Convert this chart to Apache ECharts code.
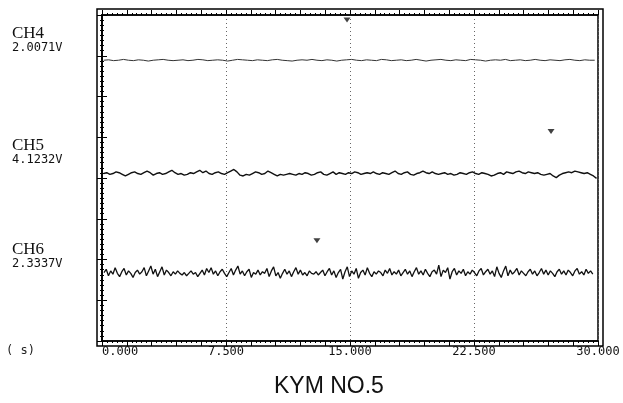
<!DOCTYPE html>
<html>
<head>
<meta charset="utf-8">
<script src="https://cdn.jsdelivr.net/npm/echarts@6/dist/echarts.min.js"></script>
<style>
  html, body { margin: 0; padding: 0; background: #fff; }
  #chart { width: 623px; height: 403px; }
</style>
</head>
<body>
<div id="chart"></div>
<script>
// Recorder sweep: 0 to 30 s, three channels, levels in screen divisions (0 = bottom, 8 = top)
const timeTicks = [0, 7.5, 15, 22.5, 30];
const channelNames = ['CH4', 'CH5', 'CH6'];
const channelReadings = ['2.0071V', '4.1232V', '2.3337V'];

// sampling clock of each trace (s)
const ch4Start = 0.1, ch4Step = 0.3;
const ch5Start = 0.1, ch5Step = 0.1875;
const ch6Start = 0.12, ch6Step = 0.135;

const ch4 = [
  6.89,6.90,6.88,6.89,6.91,6.89,6.88,6.90,6.89,6.87,
  6.89,6.90,6.91,6.89,6.88,6.89,6.90,6.88,6.89,6.91,
  6.90,6.88,6.89,6.90,6.89,6.87,6.89,6.91,6.90,6.89,
  6.88,6.90,6.89,6.88,6.90,6.91,6.89,6.88,6.87,6.89,
  6.90,6.89,6.91,6.89,6.88,6.90,6.89,6.87,6.89,6.90,
  6.91,6.89,6.88,6.90,6.89,6.88,6.91,6.90,6.88,6.89,
  6.90,6.88,6.89,6.91,6.89,6.87,6.89,6.90,6.91,6.89,
  6.88,6.90,6.89,6.88,6.91,6.90,6.89,6.87,6.89,6.90,
  6.89,6.91,6.88,6.89,6.90,6.88,6.89,6.91,6.89,6.88,
  6.90,6.89,6.88,6.90,6.91,6.89,6.88,6.90,6.89,6.89
];

const ch5 = [
  4.11,4.13,4.09,4.11,4.15,4.13,4.09,4.05,4.09,4.13,
  4.15,4.11,4.09,4.13,4.17,4.13,4.07,4.11,4.13,4.09,
  4.11,4.15,4.19,4.13,4.09,4.11,4.07,4.09,4.13,4.11,
  4.15,4.19,4.13,4.17,4.11,4.09,4.13,4.15,4.11,4.09,
  4.13,4.17,4.21,4.15,4.07,4.05,4.09,4.07,4.11,4.15,
  4.13,4.09,4.11,4.17,4.13,4.09,4.05,4.09,4.07,4.09,
  4.11,4.09,4.07,4.11,4.09,4.13,4.11,4.07,4.09,4.13,
  4.15,4.09,4.07,4.11,4.15,4.09,4.13,4.11,4.09,4.13,
  4.11,4.15,4.13,4.09,4.11,4.13,4.11,4.15,4.11,4.09,
  4.13,4.11,4.09,4.13,4.17,4.11,4.09,4.13,4.15,4.09,
  4.07,4.11,4.13,4.17,4.13,4.11,4.15,4.11,4.09,4.11,
  4.13,4.09,4.11,4.07,4.09,4.13,4.11,4.09,4.13,4.15,
  4.11,4.09,4.13,4.11,4.09,4.05,4.07,4.11,4.13,4.09,
  4.15,4.13,4.11,4.15,4.17,4.13,4.11,4.15,4.13,4.11,
  4.13,4.09,4.07,4.09,4.11,4.05,4.01,4.07,4.11,4.13,
  4.15,4.13,4.17,4.15,4.13,4.11,4.13,4.09,4.05,3.99
];

const ch6 = [
  1.68,1.76,1.60,1.72,1.64,1.80,1.66,1.58,1.70,1.78,
  1.62,1.72,1.66,1.56,1.68,1.74,1.64,1.70,1.80,1.60,
  1.72,1.84,1.64,1.76,1.58,1.70,1.82,1.62,1.74,1.68,
  1.60,1.70,1.64,1.72,1.66,1.62,1.68,1.60,1.66,1.72,
  1.64,1.68,1.58,1.66,1.74,1.62,1.78,1.68,1.80,1.64,
  1.72,1.60,1.70,1.76,1.66,1.58,1.68,1.78,1.62,1.74,
  1.84,1.64,1.72,1.60,1.70,1.76,1.56,1.68,1.64,1.74,
  1.62,1.70,1.66,1.78,1.58,1.72,1.82,1.60,1.68,1.54,
  1.66,1.76,1.64,1.72,1.58,1.70,1.80,1.64,1.74,1.62,
  1.68,1.60,1.72,1.66,1.64,1.70,1.62,1.68,1.74,1.60,
  1.70,1.78,1.62,1.72,1.56,1.68,1.76,1.52,1.70,1.82,
  1.58,1.72,1.64,1.78,1.54,1.68,1.74,1.62,1.80,1.66,
  1.58,1.70,1.64,1.72,1.68,1.60,1.74,1.66,1.78,1.62,
  1.70,1.64,1.74,1.60,1.68,1.76,1.64,1.72,1.58,1.70,
  1.80,1.64,1.72,1.62,1.76,1.66,1.58,1.70,1.74,1.64,
  1.86,1.58,1.74,1.68,1.80,1.52,1.70,1.78,1.62,1.72,
  1.66,1.76,1.60,1.70,1.64,1.74,1.68,1.60,1.72,1.78,
  1.62,1.70,1.76,1.64,1.72,1.58,1.82,1.66,1.56,1.72,
  1.84,1.60,1.74,1.64,1.70,1.78,1.62,1.72,1.66,1.60,
  1.70,1.76,1.64,1.72,1.60,1.68,1.78,1.64,1.74,1.62,
  1.72,1.66,1.58,1.70,1.76,1.64,1.72,1.62,1.74,1.68,
  1.60,1.72,1.78,1.64,1.70,1.62,1.76,1.66,1.72,1.64
];

// event markers (time s, level div)
const markerTimes = [14.82, 27.16, 13.0];
const markerLevels = [7.88, 5.14, 2.46];

function withTimes(values, start, step) {
  return values.map((v, i) => [start + i * step, v]);
}

const chart = echarts.init(document.getElementById('chart'), null, { renderer: 'canvas' });

const rulerLine = { show: true, lineStyle: { color: '#000', width: 1.5 } };
const rulerTick = { show: true, inside: false, length: 5, lineStyle: { color: '#000', width: 1 } };
const rulerMinor = { show: true, splitNumber: 5, length: 2, lineStyle: { color: '#000', width: 1 } };
const monoFont = '"DejaVu Sans Mono", monospace';
const nameFont = '17px "Liberation Serif", "DejaVu Serif", serif';

function isMajor(v) {
  return timeTicks.some(t => Math.abs(t - v) < 1e-6);
}

const option = {
  animation: false,
  backgroundColor: '#fff',
  grid: [
    { left: 102, right: 25, top: 15, bottom: 62, show: true, borderColor: '#000', borderWidth: 1.5, backgroundColor: 'transparent' },
    { left: 97, right: 20, top: 9, bottom: 57, show: true, borderColor: '#000', borderWidth: 1.5, backgroundColor: 'transparent' }
  ],
  xAxis: [
    {
      gridIndex: 0, type: 'value', min: 0, max: 30, interval: 1.5, position: 'bottom',
      axisLine: rulerLine, axisTick: rulerTick, minorTick: rulerMinor,
      splitLine: { show: false },
      axisLabel: {
        show: true, margin: 5, color: '#111', fontFamily: monoFont, fontSize: 12,
        alignMinLabel: 'left',
        formatter: v => (isMajor(v) ? v.toFixed(3) : '')
      }
    },
    {
      gridIndex: 0, type: 'value', min: 0, max: 30, interval: 7.5, position: 'bottom',
      axisLine: { show: false }, axisTick: { show: false }, axisLabel: { show: false },
      splitLine: { show: true, lineStyle: { color: '#666', width: 1, type: [1, 3] } }
    },
    {
      gridIndex: 0, type: 'value', min: 0, max: 30, interval: 1.5, position: 'top',
      axisLine: rulerLine, axisTick: rulerTick, minorTick: rulerMinor,
      splitLine: { show: false }, axisLabel: { show: false }
    },
    { gridIndex: 1, type: 'value', min: 0, max: 30, show: false }
  ],
  yAxis: [
    {
      gridIndex: 0, type: 'value', min: 0, max: 8, interval: 1, position: 'left',
      axisLine: rulerLine, axisTick: rulerTick,
      minorTick: Object.assign({}, rulerMinor, { splitNumber: 8 }),
      splitLine: { show: false }, axisLabel: { show: false }
    },
    {
      gridIndex: 0, type: 'value', min: 0, max: 8, interval: 1, position: 'right',
      axisLine: rulerLine, axisTick: rulerTick,
      minorTick: Object.assign({}, rulerMinor, { splitNumber: 8 }),
      splitLine: { show: false }, axisLabel: { show: false }
    },
    { gridIndex: 1, type: 'value', min: 0, max: 8, show: false }
  ],
  series: [
    {
      name: 'CH4', type: 'line', xAxisIndex: 0, yAxisIndex: 0, showSymbol: false, symbol: 'none',
      data: withTimes(ch4, ch4Start, ch4Step),
      lineStyle: { color: '#333', width: 1 }
    },
    {
      name: 'CH5', type: 'line', xAxisIndex: 0, yAxisIndex: 0, showSymbol: false, symbol: 'none',
      data: withTimes(ch5, ch5Start, ch5Step),
      lineStyle: { color: '#111', width: 1.4 }
    },
    {
      name: 'CH6', type: 'line', xAxisIndex: 0, yAxisIndex: 0, showSymbol: false, symbol: 'none',
      data: withTimes(ch6, ch6Start, ch6Step),
      lineStyle: { color: '#111', width: 1.3 }
    },
    {
      name: 'markers', type: 'scatter', xAxisIndex: 0, yAxisIndex: 0,
      symbol: 'triangle', symbolRotate: 180, symbolSize: [7, 5],
      itemStyle: { color: '#111' },
      data: markerTimes.map((t, i) => [t, markerLevels[i]])
    }
  ],
  graphic: [
    { type: 'text', left: 12, top: 25, style: { text: channelNames[0], font: nameFont, fill: '#111' } },
    { type: 'text', left: 12, top: 42, style: { text: channelReadings[0], font: '12px ' + monoFont, fill: '#111' } },
    { type: 'text', left: 12, top: 137, style: { text: channelNames[1], font: nameFont, fill: '#111' } },
    { type: 'text', left: 12, top: 154, style: { text: channelReadings[1], font: '12px ' + monoFont, fill: '#111' } },
    { type: 'text', left: 12, top: 241, style: { text: channelNames[2], font: nameFont, fill: '#111' } },
    { type: 'text', left: 12, top: 258, style: { text: channelReadings[2], font: '12px ' + monoFont, fill: '#111' } },
    { type: 'text', left: 6, top: 345, style: { text: '( s)', font: '12px ' + monoFont, fill: '#222' } },
    { type: 'text', left: 274, top: 375, style: { text: 'KYM NO.5', font: '23px "Liberation Sans", Arial, sans-serif', fill: '#111' } }
  ]
};

chart.setOption(option);
</script>
</body>
</html>
